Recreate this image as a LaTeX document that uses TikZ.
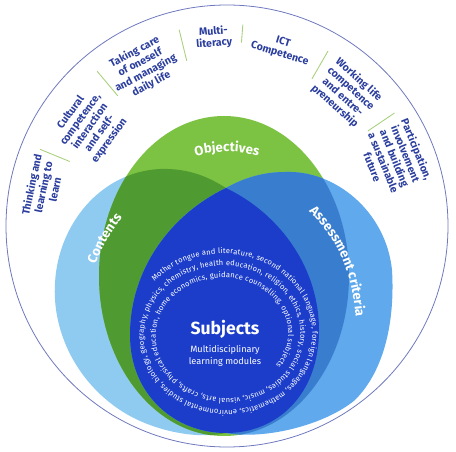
\documentclass[tikz,border=0pt]{standalone}
\usepackage{fontspec}
\setmainfont{Fira Sans}
\usetikzlibrary{decorations.text}

\definecolor{ringblue}{HTML}{2B3E9E}
\definecolor{rimline}{HTML}{6E78BE}
\definecolor{sepgreen}{HTML}{A9D07C}
\definecolor{contentsblue}{HTML}{8FCBF1}
\definecolor{objgreen}{HTML}{7CC243}
\definecolor{objdark}{HTML}{4F9B31}
\definecolor{critblue}{HTML}{5FA9EC}
\definecolor{critmid}{HTML}{397ECE}
\definecolor{subjblue}{HTML}{1B3DCA}

\newcommand{\ringfont}{\fontsize{6}{6.8}\selectfont\bfseries}
\newcommand{\bigfont}{\fontsize{7.5}{8}\selectfont\bfseries}
\newcommand{\spiralfont}{\fontsize{4.3}{5}\selectfont}
\newcommand{\subjfont}{\fontsize{10}{11}\selectfont\bfseries}
\newcommand{\modfont}{\fontsize{5.2}{7}\selectfont}

% field outlines (pixel coordinates, y downwards)
\newcommand{\objectivesfield}{(224,276) ellipse [x radius=125, y radius=160]}
\newcommand{\contentsfield}{(226,188) .. controls (282,215) and (319,270) .. (319,330)
  .. controls (319,395) and (277,433) .. (226,433) .. controls (195,440) and (150,430) .. (120,410)
  .. controls (75,380) and (52,330) .. (55,283) .. controls (58,225) and (100,172) .. (160,169)
  .. controls (190,168) and (210,178) .. (226,188) -- cycle}
\newcommand{\criteriafield}{(226,188) .. controls (170,215) and (130,270) .. (130,335)
  .. controls (130,395) and (175,433) .. (226,433) .. controls (265,440) and (325,425) .. (355,400)
  .. controls (385,370) and (395,320) .. (392,270) .. controls (386,212) and (336,170) .. (285,172)
  .. controls (260,172) and (240,180) .. (226,188) -- cycle}
\newcommand{\subjectsfield}{(226,188) .. controls (170,215) and (130,270) .. (130,335)
  .. controls (130,395) and (175,433) .. (226,433) .. controls (277,433) and (319,395) .. (319,330)
  .. controls (319,270) and (282,215) .. (226,188) -- cycle}

\begin{document}
\begin{tikzpicture}[x=0.02cm, y=-0.02cm,
    ring/.style={align=center, text=ringblue, font=\ringfont, inner sep=0pt},
    sepline/.style={draw=sepgreen, line width=0.5pt},
    rim/.style={draw=rimline, line width=0.45pt},
    bigword/.style={decorate, decoration={text along path, text={|\bigfont|#1}, text color=white, text align=center}},
    spiralword/.style={decorate, decoration={text along path, text={|\spiralfont|#1}, text color=white, text align=fit to path}}
]
\useasboundingbox (0,0) rectangle (456,452);

% outer ring
\draw[rim] (227,226) circle [radius=221];
\foreach \a/\ri in {157.7/170, 130/170, 103.7/170, 85.5/184, 60/170, 34/170}
  \draw[sepline] ({227+\ri*cos(\a)},{226-\ri*sin(\a)}) -- ({227+202*cos(\a)},{226-202*sin(\a)});

\node[ring, rotate=78] (think) at ({227+188*cos(168)},{226-188*sin(168)}) {Thinking and\\learning to\\learn};
\node[ring, rotate=54] (culture) at ({227+169*cos(144)},{226-169*sin(144)}) {Cultural\\competence,\\interaction\\and self-\\expression};
\node[ring, rotate=28] (care) at ({227+179*cos(118)},{226-179*sin(118)}) {Taking care\\of oneself\\and managing\\daily life};
\node[ring, rotate=4] (multilit) at ({227+189*cos(94)},{226-189*sin(94)}) {Multi-\\literacy};
\node[ring, rotate=-17] (ict) at ({227+186*cos(73)},{226-186*sin(73)}) {ICT\\Competence};
\node[ring, rotate=-42] (work) at ({227+179*cos(48)},{226-179*sin(48)}) {Working life\\competence\\and entre-\\preneurship};
\node[ring, rotate=-68] (part) at ({227+181*cos(22)},{226-181*sin(22)}) {Participation,\\involvement\\and building\\a sustainable\\future};

% overlapping fields
\fill[contentsblue] \contentsfield;
\fill[objgreen] \objectivesfield;
\begin{scope}
  \clip \objectivesfield;
  \fill[objdark] \contentsfield;
\end{scope}
\fill[critblue] \criteriafield;
\begin{scope}
  \clip \objectivesfield;
  \fill[critmid] \criteriafield;
\end{scope}
\fill[subjblue] \subjectsfield;

% field labels
\path[bigword=Objectives] (185,160) .. controls (210,149) and (244,149) .. (269,160);
\path[bigword=Contents] (92,272) .. controls (100,252) and (111,229) .. (128,212);
\path[bigword=Assessment criteria] (303,206) .. controls (333,232) and (354,268) .. (356,325);

% subjects
\path[spiralword={Mother tongue and literature, second national language, foreign languages, mathematics, environmental studies, biology, geography, physics, chemistry, health education, religion, ethics, history, social studies, music, visual arts, crafts, physical education, home economics, guidance counselling, optional subjects}]
  plot[domain=0:895, samples=240, variable=\t] ({225+(92-\t/30)*cos(140-\t)}, {335-(83-\t/30)*sin(140-\t)});
\node[font=\subjfont, text=white] (subj) at (225,329) {Subjects};
\node[font=\modfont, text=white, align=center] (mods) at (225,356) {Multidisciplinary\\learning modules};
\end{tikzpicture}
\end{document}
